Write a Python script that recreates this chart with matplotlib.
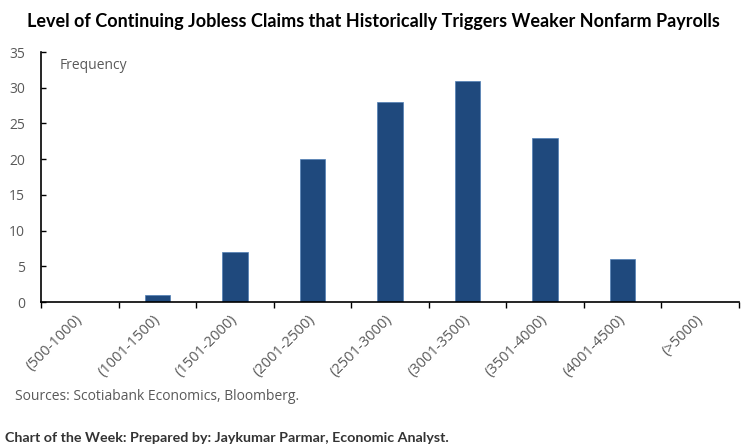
import matplotlib
matplotlib.use("Agg")
import matplotlib.pyplot as plt
from matplotlib.ticker import FixedLocator

categories = ["(500-1000)", "(1001-1500)", "(1501-2000)", "(2001-2500)", "(2501-3000)",
              "(3001-3500)", "(3501-4000)", "(4001-4500)", "(>5000)"]
frequency = [0, 1, 7, 20, 28, 31, 23, 6, 0]
y_ticks = [0, 5, 10, 15, 20, 25, 30, 35]

BAR = "#1f497d"
GRAY = "#595959"

fig = plt.figure(figsize=(7.46, 4.47), dpi=100)
ax = fig.add_axes([41/746, 1-302/447, (739-41)/746, 250/447])

x = list(range(len(categories)))
ax.bar(x, frequency, width=0.33, color=BAR, edgecolor="#4f7fb5", linewidth=0.5)

ax.set_xlim(-0.5, len(categories) - 0.5)
ax.set_ylim(0, 35)
ax.set_yticks(y_ticks)
ax.set_yticklabels([str(v) for v in y_ticks], fontsize=10, color=GRAY, family="Open Sans")
ax.tick_params(axis="y", direction="in", length=3.5, width=1, pad=11.5, colors="black", labelcolor=GRAY)

ax.set_xticks(x)
ax.set_xticklabels(categories, rotation=45, ha="right", va="center", rotation_mode="anchor",
                   fontsize=10.5, color=GRAY, family="Open Sans")
ax.tick_params(axis="x", which="major", length=0, pad=11)
ax.xaxis.set_minor_locator(FixedLocator([i - 0.5 for i in range(len(categories) + 1)]))
ax.tick_params(axis="x", which="minor", direction="out", length=4, width=1, color="black")

for s in ["top", "right"]:
    ax.spines[s].set_visible(False)
ax.spines["left"].set_linewidth(1.2)
ax.spines["bottom"].set_linewidth(1.2)

ax.text(0.026, 0.975, "Frequency", transform=ax.transAxes, fontsize=10, color=GRAY,
        family="Open Sans", va="top", ha="left")

fig.text(0.5, 1-21/447, "Level of Continuing Jobless Claims that Historically Triggers Weaker Nonfarm Payrolls",
         ha="center", va="center", fontsize=13, fontweight="bold", family="Lato", color="black")
fig.text(15/746, 1-396/447, "Sources: Scotiabank Economics, Bloomberg.", ha="left", va="center",
         fontsize=10, color=GRAY, family="Open Sans")
fig.text(5/746, 1-438/447, "Chart of the Week: Prepared by: Jaykumar Parmar, Economic Analyst.",
         ha="left", va="center", fontsize=10.3, fontweight="bold", family="Lato", color="#333333")

fig.savefig("out.png", dpi=100)
